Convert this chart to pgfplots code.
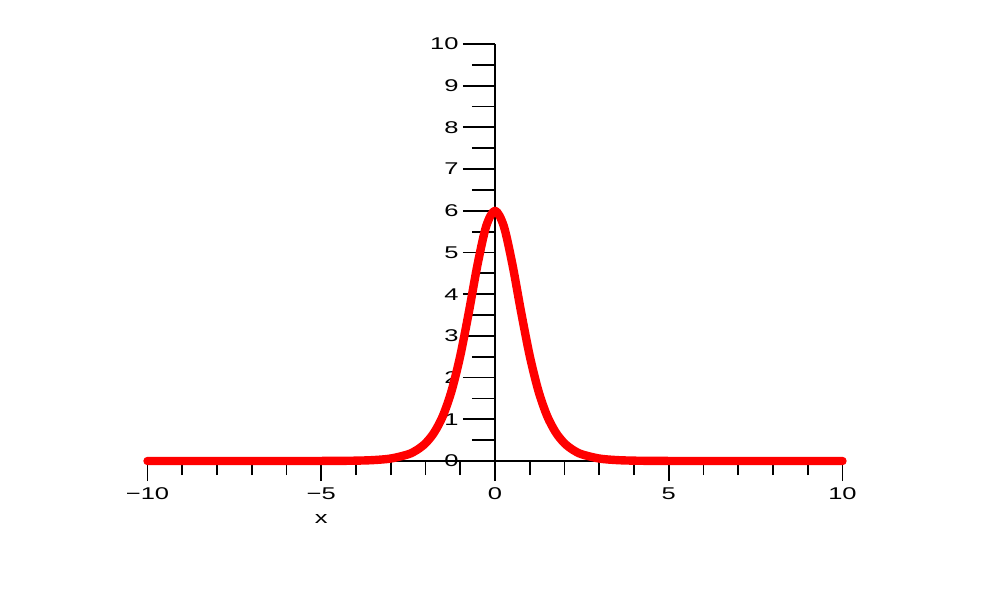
\documentclass[border=0pt]{standalone}
\usepackage{pgfplots}
\pgfplotsset{compat=1.18}
\usepackage{fontspec}
\setmainfont{Liberation Sans}[FakeStretch=1.5]
\begin{document}
\begin{tikzpicture}
\path[use as bounding box] (-247.5pt,-64pt) rectangle (243pt,230.5pt);
\pgfplotsset{
  base/.style={
    at={(0,0)}, anchor=origin,
    x=17.375pt, y=20.85pt,
    scale only axis,
    xmin=-10, xmax=10, ymin=0, ymax=10,
    axis lines=middle,
    axis line style={-, line width=0.9pt, black},
    every tick/.style={black, line width=0.9pt},
    tick label style={font=\fontsize{8.5}{9}\selectfont},
    hide obscured x ticks=false,
    hide obscured y ticks=false,
    clip=false,
  },
}
% x axis
\begin{axis}[base,
  hide y axis,
  xtick={-10,-5,0,5,10},
  xticklabels={−10,−5,0,5,10},
  minor x tick num=4,
  xtick align=outside,
  major tick length=10pt, minor tick length=7pt,
  xticklabel style={inner sep=1pt, yshift=-2pt},
]
\end{axis}
% y axis and curve
\begin{axis}[base,
  hide x axis,
  ytick={0,1,...,10},
  yticklabels={0,1,2,3,4,5,6,7,8,9,10},
  minor y tick num=1,
  ytick align=outside,
  major tick length=16pt, minor tick length=11.5pt,
  yticklabel style={inner sep=1pt, xshift=-1pt},
]
\addplot[red, line width=4.2pt, smooth, line join=round, line cap=round] coordinates {
  (-10,0.0000) (-8,0.0000) (-6,0.0002) (-5,0.0011) (-4.5,0.0030) (-4,0.0081)
  (-3.5,0.0218) (-3,0.0592) (-2.5,0.160) (-2.25,0.263) (-2,0.424) (-1.75,0.683)
  (-1.5,1.08) (-1.25,1.68) (-1,2.52) (-0.75,3.58) (-0.5,4.72) (-0.25,5.64)
  (0,6.00)
  (0.25,5.64) (0.5,4.72) (0.75,3.58) (1,2.52) (1.25,1.68) (1.5,1.08)
  (1.75,0.683) (2,0.424) (2.25,0.263) (2.5,0.160) (3,0.0592) (3.5,0.0218)
  (4,0.0081) (4.5,0.0030) (5,0.0011) (6,0.0002) (8,0.0000) (10,0.0000)
};
\node[font=\fontsize{8.5}{9}\selectfont] at (axis cs:-5,-1.39) {x};
\end{axis}
\end{tikzpicture}
\end{document}
